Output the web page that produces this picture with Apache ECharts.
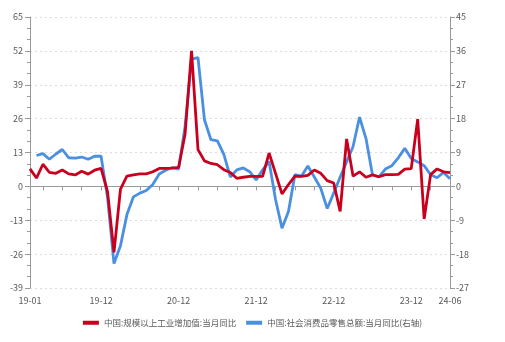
<!DOCTYPE html>
<html>
<head>
<meta charset="utf-8">
<script src="https://cdn.jsdelivr.net/npm/echarts@6/dist/echarts.min.js"></script>
<style>html,body{margin:0;padding:0;background:#fff;}#c{width:505px;height:342px;}</style>
</head>
<body>
<div id="c"></div>
<script>
const categories = ['19-01','19-02','19-03','19-04','19-05','19-06','19-07','19-08','19-09','19-10','19-11','19-12',
'20-01','20-02','20-03','20-04','20-05','20-06','20-07','20-08','20-09','20-10','20-11','20-12',
'21-01','21-02','21-03','21-04','21-05','21-06','21-07','21-08','21-09','21-10','21-11','21-12',
'22-01','22-02','22-03','22-04','22-05','22-06','22-07','22-08','22-09','22-10','22-11','22-12',
'23-01','23-02','23-03','23-04','23-05','23-06','23-07','23-08','23-09','23-10','23-11','23-12',
'24-01','24-02','24-03','24-04','24-05','24-06'];
const labelCategories = ['19-01','19-12','20-12','21-12','22-12','23-12','24-06'];
const tickMonths = ['03','06','09','12'];
const industrial = [6.7,3.2,8.5,5.4,5.0,6.3,4.8,4.4,5.8,4.7,6.2,6.9,
-2.0,-25.3,-1.1,3.9,4.4,4.8,4.8,5.6,6.9,6.9,7.0,7.3,
20.0,52.0,14.1,9.8,8.8,8.3,6.4,5.3,3.1,3.5,3.8,3.8,
3.8,12.8,5.0,-2.9,0.7,3.9,3.8,4.2,6.3,5.0,2.2,1.3,
-9.6,18.2,3.9,5.6,3.5,4.4,3.7,4.5,4.5,4.6,6.6,6.8,
25.8,-12.5,4.5,6.7,5.6,5.3];
const retail = [null,8.2,8.7,7.2,8.6,9.8,7.6,7.5,7.8,7.2,8.0,8.0,
-3.0,-20.5,-15.8,-7.5,-2.8,-1.8,-1.1,0.5,3.3,4.3,5.0,4.6,
16.0,33.8,34.2,17.7,12.4,12.1,8.5,2.5,4.4,4.9,3.9,1.7,
4.4,6.6,-3.5,-11.1,-6.7,3.1,2.7,5.4,2.5,-0.5,-5.9,-1.8,
2.5,6.5,10.6,18.4,12.7,3.1,2.5,4.6,5.5,7.6,10.1,7.4,
6.5,5.5,3.1,2.3,3.7,2.0];
const leftAxis = {min: -39, max: 65, interval: 13};
const rightAxis = {min: -27, max: 45, interval: 9};
const seriesNames = ['中国:规模以上工业增加值:当月同比', '中国:社会消费品零售总额:当月同比(右轴)'];

const chart = echarts.init(document.getElementById('c'), null, {renderer: 'canvas'});
const axisColor = '#9a9a9a';
const textColor = '#595959';
const fontFamily = '"Noto Sans CJK SC", "Noto Sans", sans-serif';
chart.setOption({
  animation: false,
  backgroundColor: '#ffffff',
  grid: {left: 30, right: 55, top: 17, bottom: 54, containLabel: false},
  legend: {
    bottom: 10, left: 'center',
    itemWidth: 16, itemHeight: 4, itemGap: 10,
    icon: 'rect',
    textStyle: {color: textColor, fontSize: 8.5, fontFamily: fontFamily},
    data: seriesNames
  },
  xAxis: {
    type: 'category',
    data: categories,
    boundaryGap: false,
    axisLine: {lineStyle: {color: axisColor, width: 1}},
    axisTick: {
      show: true, length: 4, lineStyle: {color: axisColor},
      interval: function (i, v) { return i === 0 || i === categories.length - 1 || tickMonths.indexOf(v.slice(3)) >= 0; }
    },
    axisLabel: {
      color: textColor, fontSize: 9, fontFamily: fontFamily, margin: 8,
      interval: function (i, v) { return labelCategories.indexOf(v) >= 0; }
    },
    splitLine: {show: false}
  },
  yAxis: [
    {
      type: 'value', min: leftAxis.min, max: leftAxis.max, interval: leftAxis.interval,
      position: 'left',
      axisLine: {show: true, lineStyle: {color: axisColor}},
      axisTick: {show: true, length: 5, lineStyle: {color: axisColor}},
      minorTick: {show: true, splitNumber: 3, length: 3, lineStyle: {color: axisColor}},
      axisLabel: {color: textColor, fontSize: 9, fontFamily: fontFamily, margin: 7},
      splitLine: {show: true, lineStyle: {color: '#dcdcdc', type: [2, 3], width: 1}}
    },
    {
      type: 'value', min: rightAxis.min, max: rightAxis.max, interval: rightAxis.interval,
      position: 'right',
      axisLine: {show: true, lineStyle: {color: axisColor}},
      axisTick: {show: true, length: 5, lineStyle: {color: axisColor}},
      minorTick: {show: true, splitNumber: 3, length: 3, lineStyle: {color: axisColor}},
      axisLabel: {color: textColor, fontSize: 9, fontFamily: fontFamily, margin: 6},
      splitLine: {show: false}
    }
  ],
  series: [
    {
      name: seriesNames[0], type: 'line', yAxisIndex: 0, data: industrial,
      showSymbol: false, symbol: 'none',
      lineStyle: {color: '#c8001e', width: 2.8},
      itemStyle: {color: '#c8001e'},
      z: 3
    },
    {
      name: seriesNames[1], type: 'line', yAxisIndex: 1, data: retail,
      showSymbol: false, symbol: 'none', connectNulls: false,
      lineStyle: {color: '#4a90e2', width: 2.8},
      itemStyle: {color: '#4a90e2'},
      z: 2
    }
  ]
});
</script>
</body>
</html>
